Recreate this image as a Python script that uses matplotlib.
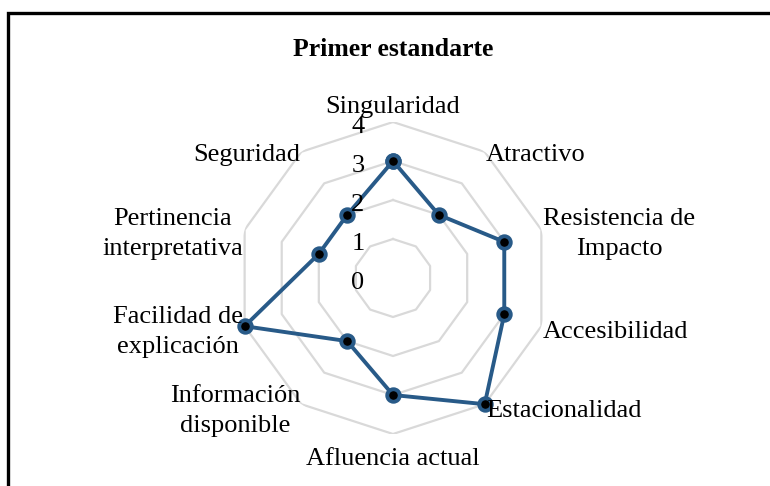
import numpy as np
import matplotlib.pyplot as plt
from matplotlib.patches import Rectangle
from matplotlib.transforms import ScaledTranslation

plt.rcParams['font.family'] = ['Liberation Serif', 'DejaVu Serif']

categories = ['Singularidad', 'Atractivo', 'Resistencia de\nImpacto', 'Accesibilidad',
              'Estacionalidad', 'Afluencia actual', 'Información\ndisponible',
              'Facilidad de\nexplicación', 'Pertinencia\ninterpretativa', 'Seguridad']
values = [3, 2, 3, 3, 4, 3, 2, 4, 2, 2]
levels = [0, 1, 2, 3, 4]
title = 'Primer estandarte'

line_color = '#285a88'
grid_color = '#d9d9d9'

fig = plt.figure(figsize=(7.7, 4.86), dpi=100)
ax = fig.add_axes([237 / 770, 52 / 486, 312 / 770, 312 / 486], projection='polar')
ax.set_theta_zero_location('N')
ax.set_theta_direction(-1)
ax.set_ylim(0, max(levels))

n = len(categories)
angles = np.linspace(0, 2 * np.pi, n, endpoint=False)
ang_closed = np.append(angles, angles[0])

# polygon grid rings
for lv in levels[1:]:
    ax.plot(ang_closed, [lv] * (n + 1), color=grid_color, lw=1.6, zorder=1)

vals_closed = values + values[:1]
ax.plot(ang_closed, vals_closed, color=line_color, lw=2.8, zorder=3,
        marker='o', markersize=9, markerfacecolor='black',
        markeredgecolor=line_color, markeredgewidth=2.8, clip_on=False)

ax.grid(False)
ax.set_xticks([])
ax.set_yticks([])
ax.spines['polar'].set_visible(False)
ax.patch.set_alpha(0)

# radial value labels left of the vertical axis
off = ax.transData + ScaledTranslation(-0.35, -0.05, fig.dpi_scale_trans)
for lv in levels:
    ax.text(0, lv, str(lv), transform=off, ha='center', va='center', fontsize=19)

# category labels
side = ax.transData + ScaledTranslation(0, -0.05, fig.dpi_scale_trans)
for a, lab in zip(angles, categories):
    s, c = np.sin(a), np.cos(a)
    if abs(s) < 1e-6:
        ha = 'center'
        va = 'bottom' if c > 0 else 'top'
        r = 4.1 if c > 0 else 4.35
        tr = ax.transData
    else:
        ha = 'left' if s > 0 else 'right'
        va = 'center'
        r = 4.05
        tr = side
    ax.text(a, r, lab, ha=ha, va=va, fontsize=19, multialignment='center',
            linespacing=1.45, transform=tr)

fig.text(393 / 770, 1 - 50 / 486, title, ha='center', va='center',
         fontsize=18.5, fontweight='bold')

fig.patches.append(Rectangle((8 / 770, -0.1), 1.2, 1.1 - 13 / 486,
                             transform=fig.transFigure, fill=False,
                             edgecolor='black', lw=2.4))

fig.savefig('out.png', dpi=100)
